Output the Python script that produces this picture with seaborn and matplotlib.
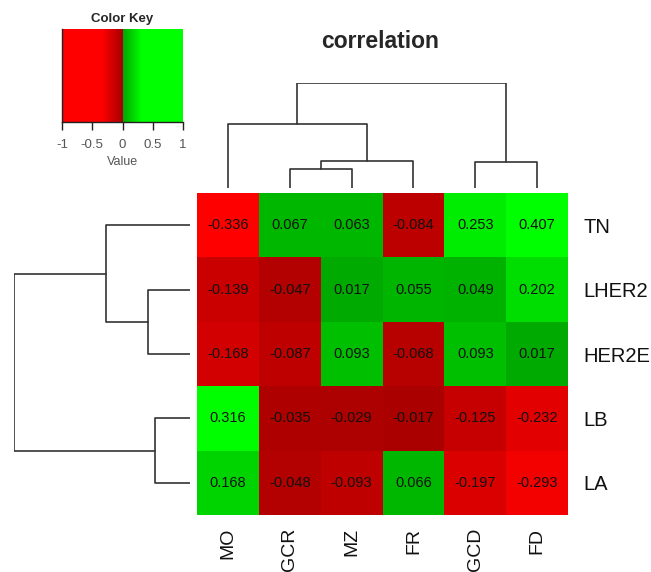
import numpy as np
import pandas as pd
import matplotlib
matplotlib.use("Agg")
import matplotlib.pyplot as plt
from matplotlib.colors import LinearSegmentedColormap
import seaborn as sns

# data (already in dendrogram order)
row_labels = ["TN", "LHER2", "HER2E", "LB", "LA"]
col_labels = ["MO", "GCR", "MZ", "FR", "GCD", "FD"]
values = [
    [-0.336, 0.067, 0.063, -0.084, 0.253, 0.407],
    [-0.139, -0.047, 0.017, 0.055, 0.049, 0.202],
    [-0.168, -0.087, 0.093, -0.068, 0.093, 0.017],
    [0.316, -0.035, -0.029, -0.017, -0.125, -0.232],
    [0.168, -0.048, -0.093, 0.066, -0.197, -0.293],
]
# merges: (left, right, height); ids >= n refer to earlier merges
col_merges = [(1, 2, 0.18), (6, 3, 0.26), (4, 5, 0.25), (0, 7, 0.61), (9, 8, 1.0)]
row_merges = [(1, 2, 0.24), (3, 4, 0.20), (0, 5, 0.48), (7, 6, 1.0)]

df = pd.DataFrame(values, index=row_labels, columns=col_labels)

sns.set_theme(style="white")
plt.rcParams["font.family"] = ["Liberation Sans", "DejaVu Sans"]

cmap = LinearSegmentedColormap.from_list("rg", [
    (0.0, "#ff0000"), (0.33, "#ff0000"), (0.4999, "#a60000"),
    (0.5, "#00a400"), (0.66, "#00ff00"), (1.0, "#00ff00")])

W, H = 651, 572
fig = plt.figure(figsize=(W / 100, H / 100), dpi=100)

def box(x0, y0, x1, y1):
    return [x0 / W, 1 - y1 / H, (x1 - x0) / W, (y1 - y0) / H]

# heatmap
ax = fig.add_axes(box(197, 193, 568, 515))
sns.heatmap(df, ax=ax, cmap=cmap, vmin=-1, vmax=1, cbar=False,
            annot=True, fmt=".3f", annot_kws={"size": 10.5, "color": "#111111"})
ax.yaxis.tick_right()
ax.tick_params(axis="both", length=0, labelsize=14.5, colors="#111111")
ax.tick_params(axis="y", pad=11)
ax.tick_params(axis="x", pad=9, labelsize=14)
plt.setp(ax.get_yticklabels(), rotation=0)
plt.setp(ax.get_xticklabels(), rotation=90, va="top")
ax.set_xlabel("")
ax.set_ylabel("")

def draw_dendro(dax, merges, n, horizontal):
    pos = {i: i + 0.5 for i in range(n)}
    hgt = {i: 0.0 for i in range(n)}
    for k, (a, b, h) in enumerate(merges):
        xs = [pos[a], pos[a], pos[b], pos[b]]
        ys = [hgt[a], h, h, hgt[b]]
        if horizontal:
            dax.plot(ys, xs, color="#333333", lw=1.2)
        else:
            dax.plot(xs, ys, color="#333333", lw=1.2)
        pos[n + k] = (pos[a] + pos[b]) / 2
        hgt[n + k] = h
    dax.axis("off")

# column dendrogram
cax = fig.add_axes(box(197, 83, 568, 188))
draw_dendro(cax, col_merges, len(col_labels), False)
cax.set_xlim(0, len(col_labels))
cax.set_ylim(0, 1.0)

# row dendrogram
rax = fig.add_axes(box(14, 193, 190, 515))
draw_dendro(rax, row_merges, len(row_labels), True)
rax.set_xlim(1.0, 0)
rax.set_ylim(len(row_labels), 0)

# color key
kax = fig.add_axes(box(62, 29, 183, 122))
grad = np.linspace(-1, 1, 257)
mid = (grad[:-1] + grad[1:]) / 2
kax.pcolormesh(grad, [0, 1], mid[np.newaxis, :], cmap=cmap,
               vmin=-1, vmax=1, shading="flat")
kax.set_xlim(-1, 1)
kax.set_ylim(0, 1)
kax.set_yticks([])
kax.set_xticks([-1, -0.5, 0, 0.5, 1])
kax.set_xticklabels(["-1", "-0.5", "0", "0.5", "1"])
kax.tick_params(axis="x", length=6, width=1, colors="#222222", labelcolor="#555555",
                labelsize=9.5, direction="out", bottom=True, pad=6)
for s in ["top", "right"]:
    kax.spines[s].set_visible(False)
for s in ["left", "bottom"]:
    kax.spines[s].set_color("#222222")
    kax.spines[s].set_linewidth(1)
kax.set_xlabel("Value", fontsize=9, color="#555555", labelpad=4)
kax.set_title("Color Key", fontsize=9.5, fontweight="bold", pad=5)

fig.text(380 / W, 1 - 42 / H, "correlation", ha="center", va="center",
         fontsize=16.5, fontweight="bold")

fig.savefig("out.png", dpi=100, facecolor="white")
